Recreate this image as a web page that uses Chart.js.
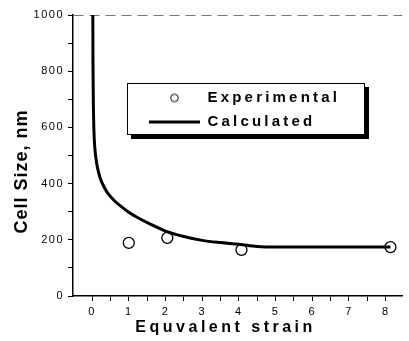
<!DOCTYPE html>
<html>
<head>
<meta charset="utf-8">
<script src="https://cdn.jsdelivr.net/npm/chart.js@4.4.0/dist/chart.umd.min.js"></script>
<style>
  html, body { margin: 0; padding: 0; background: #fff; }
</style>
</head>
<body>
<canvas id="chart" width="409" height="341"></canvas>
<script>
'use strict';

// experimental points
var expStrain = [1.0, 2.05, 4.07, 8.13];
var expSize = [189, 207, 164, 174];

// calculated curve
var calcStrain = [0.02, 0.025, 0.035, 0.05, 0.07, 0.1, 0.15, 0.22, 0.3, 0.42, 0.6, 0.8, 1.0, 1.3, 1.6, 2.0, 2.5, 3.0, 3.5, 4.0, 4.5, 5.0, 6.0, 7.0, 8.13];
var calcSize = [1000, 820, 680, 590, 535, 495, 455, 420, 395, 367, 340, 318, 298, 275, 255, 231, 212, 198, 190, 184, 176, 174, 174, 174, 174];

var seriesNames = ['Experimental', 'Calculated'];
var xTicks = [0, 0.5, 1, 1.5, 2, 2.5, 3, 3.5, 4, 4.5, 5, 5.5, 6, 6.5, 7, 7.5, 8];
var yTicks = [0, 100, 200, 300, 400, 500, 600, 700, 800, 900, 1000];
var xTitle = 'Equvalent strain';
var yTitle = 'Cell Size, nm';

var FONT = "'Liberation Sans', Arial, sans-serif";
var ctx = document.getElementById('chart').getContext('2d');

function toPoints(xs, ys) {
  var out = [];
  for (var i = 0; i < xs.length; i++) {
    out.push({x: xs[i], y: ys[i]});
  }
  return out;
}

// small hollow circle for the legend entry
function legendCircle() {
  var c = document.createElement('canvas');
  c.width = 11;
  c.height = 11;
  var g = c.getContext('2d');
  g.strokeStyle = '#000';
  g.lineWidth = 1;
  g.beginPath();
  g.arc(5.5, 5.5, 3.8, 0, Math.PI * 2);
  g.stroke();
  return c;
}

// wrap a draw method so its text gets letter spacing (and a nudge)
function spaced(obj, method, spacing, dx, dy) {
  if (obj['_sp_' + method]) return;
  var orig = obj[method];
  obj[method] = function () {
    var c = this.ctx;
    c.save();
    c.letterSpacing = spacing;
    c.translate(dx, dy);
    orig.apply(this, arguments);
    c.restore();
  };
  obj['_sp_' + method] = true;
}

var framePlugin = {
  id: 'frame',
  afterLayout: function (chart) {
    var lg = chart.legend;
    lg.left = 140;
    lg.top = 81.5;
    lg.right = 365;
    lg.bottom = 160;
    lg.width = 225;
    lg.height = 78.5;
  },
  beforeDraw: function (chart) {
    spaced(chart.scales.x, 'drawTitle', '3.5px', -12, 0);
    spaced(chart.scales.x, 'drawLabels', '1.5px', 0, 0);
    spaced(chart.scales.y, 'drawTitle', '1px', 0, 16);
    spaced(chart.scales.y, 'drawLabels', '1.5px', 0, 0);
    spaced(chart.legend, 'draw', '3.2px', 0, 0);

    // legend box with drop shadow
    var c = chart.ctx;
    c.save();
    c.fillStyle = '#000';
    c.fillRect(131, 87, 238, 52);
    c.fillStyle = '#fff';
    c.fillRect(127, 83, 238, 52);
    c.strokeStyle = '#000';
    c.lineWidth = 1;
    c.strokeRect(127.5, 83.5, 237, 51);
    c.restore();
  }
};

function makeChart() {
  return new Chart(ctx, {
    type: 'scatter',
    data: {
      datasets: [{
        label: seriesNames[0],
        data: toPoints(expStrain, expSize),
        pointStyle: 'circle',
        pointRadius: 5.5,
        pointBorderWidth: 1.3,
        pointBorderColor: '#000',
        pointBackgroundColor: 'rgba(0,0,0,0)',
        showLine: false
      }, {
        label: seriesNames[1],
        data: toPoints(calcStrain, calcSize),
        showLine: true,
        borderColor: '#000',
        borderWidth: 3,
        cubicInterpolationMode: 'monotone',
        pointRadius: 0,
        pointStyle: 'line',
        pointBorderColor: '#000',
        pointBorderWidth: 3
      }]
    },
    options: {
      responsive: false,
      animation: false,
      devicePixelRatio: 1,
      layout: {padding: {top: 15, right: 0, bottom: 0, left: 0}},
      plugins: {
        tooltip: {enabled: false},
        legend: {
          position: 'chartArea',
          align: 'start',
          labels: {
            usePointStyle: true,
            pointStyleWidth: 51,
            padding: 9,
            color: '#000',
            font: {family: FONT, size: 15, weight: 'bold'},
            generateLabels: function (chart) {
              var items = Chart.defaults.plugins.legend.labels.generateLabels(chart);
              items[0].pointStyle = legendCircle();
              return items;
            }
          }
        }
      },
      scales: {
        x: {
          type: 'linear',
          min: -0.52,
          max: 8.45,
          afterFit: function (scale) { scale.height = 45; },
          afterBuildTicks: function (scale) {
            scale.ticks = xTicks.map(function (v) { return {value: v}; });
          },
          ticks: {
            autoSkip: false,
            maxRotation: 0,
            padding: 4,
            color: '#000',
            font: {family: FONT, size: 11},
            callback: function (v) { return v % 1 === 0 ? String(v) : ''; }
          },
          grid: {
            drawOnChartArea: false,
            tickLength: 5,
            tickColor: '#000',
            tickWidth: 1
          },
          border: {display: true, color: '#000', width: 1.5},
          title: {
            display: true,
            text: xTitle,
            color: '#000',
            font: {family: FONT, size: 16, weight: 'bold'},
            padding: {top: 0, bottom: 4}
          }
        },
        y: {
          type: 'linear',
          min: 0,
          max: 1000,
          afterFit: function (scale) { scale.width = 73; },
          afterBuildTicks: function (scale) {
            scale.ticks = yTicks.map(function (v) { return {value: v}; });
          },
          ticks: {
            autoSkip: false,
            padding: 4,
            color: '#000',
            font: {family: FONT, size: 11},
            callback: function (v) { return v % 200 === 0 ? String(v) : ''; }
          },
          grid: {
            drawOnChartArea: true,
            color: function (c) { return c.tick && c.tick.value === 1000 ? '#777' : 'rgba(0,0,0,0)'; },
            lineWidth: 1,
            tickLength: 5,
            tickColor: '#000',
            tickWidth: 1
          },
          border: {display: true, color: '#000', width: 1.5, dash: [10, 6]},
          title: {
            display: true,
            text: yTitle,
            color: '#000',
            font: {family: FONT, size: 18, weight: 'bold'},
            padding: {top: 11, bottom: 0}
          }
        }
      }
    },
    plugins: [framePlugin]
  });
}

makeChart();
</script>
</body>
</html>
